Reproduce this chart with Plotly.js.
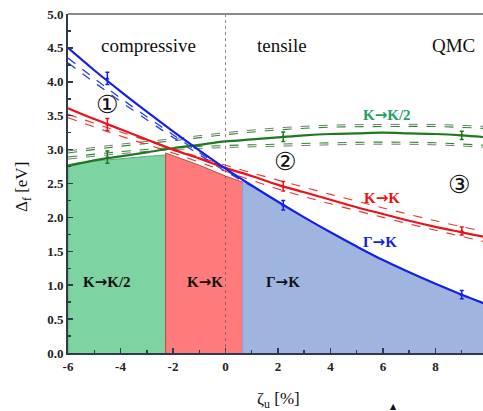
<!DOCTYPE html>
<html>
<head>
<meta charset="utf-8">
<script src="https://cdn.plot.ly/plotly-3.0.1.min.js"></script>
<style>html,body{margin:0;padding:0;background:#fff;}#chart{width:483px;height:411px;}</style>
</head>
<body>
<div id="chart"></div>
<script>
// ---- data ----
const strainX = [-6,-5,-4,-3,-2,-1,0,1,2,3,4,5,6,7,8,9,10];
const gammaK  = [4.50,4.17,3.86,3.56,3.27,2.99,2.72,2.47,2.23,2.00,1.78,1.57,1.37,1.19,1.02,0.86,0.71];
const kK      = [3.61,3.45,3.30,3.15,3.00,2.87,2.73,2.61,2.48,2.37,2.26,2.15,2.05,1.95,1.86,1.78,1.70];
const kK2     = [2.76,2.84,2.90,2.96,3.02,3.07,3.12,3.15,3.18,3.21,3.23,3.24,3.25,3.24,3.23,3.21,3.18];

const bandX      = [-6,-4,-2,0,2,4,6,8,10];
const kK2Upper   = [2.95,3.05,3.13,3.22,3.29,3.33,3.34,3.34,3.31];
const kK2Lower   = [2.89,2.97,3.03,3.06,3.08,3.10,3.11,3.10,3.06];
const kKUpper    = [3.52,3.26,3.01,2.77,2.55,2.34,2.14,1.95,1.78];
const kKLower    = [3.47,3.20,2.95,2.68,2.42,2.20,2.00,1.81,1.63];
const blueBandX  = [-6,-4,-2,0,1];
const gammaKUpper= [4.35,3.76,3.22,2.70,2.47];
const gammaKLower= [4.28,3.71,3.18,2.68,2.46];

const qmcX      = [-4.5, 2.2, 9];
const qmcGammaK = [4.05, 2.18, 0.86];
const qmcKK     = [3.37, 2.46, 1.80];
const qmcKK2    = [2.89, 3.19, 3.21];
const qmcErr    = [0.09, 0.07, 0.06];

const regGreenX = [-6,-6,-5,-4,-3,-2.28,-2.28];
const regGreenY = [0,2.78,2.83,2.87,2.90,2.92,0];
const regRedX   = [-2.28,-2.28,-1,0,0.65,0.65];
const regRedY   = [0,2.95,2.77,2.61,2.52,0];
const regBlueX  = [0.65,0.65,1,2,3,4,5,6,7,8,9,10,10];
const regBlueY  = [0,2.56,2.47,2.23,2.00,1.78,1.57,1.37,1.19,1.02,0.86,0.71,0];

const xTicks = [-6,-4,-2,0,2,4,6,8];
const yTicks = [0,0.5,1,1.5,2,2.5,3,3.5,4,4.5,5];

// ---- traces ----
const cBlue='#1222e6', cRed='#e81418', cGreen='#1f7a1f';
const traces = [];
function region(x,y,fill,edge){
  traces.push({x:x,y:y,mode:'lines',fill:'toself',fillcolor:fill,line:{color:edge,width:1},hoverinfo:'skip',showlegend:false});
}
region(regGreenX,regGreenY,'#7dd3a2','#5aaa7e');
region(regRedX,regRedY,'#ff7b7b','#c04848');
region(regBlueX,regBlueY,'#9fb5e0','#8aa0d0');

function dashed(x,y,color,w){
  traces.push({x:x,y:y,mode:'lines',line:{color:color,width:w||1,dash:'dash',shape:'spline'},hoverinfo:'skip',showlegend:false});
}
dashed(bandX,kK2Upper,'#2f8a2f',1.1);
dashed(bandX,kK2Lower,'#2f8a2f',1.1);
dashed(bandX,kK2Upper.map(v=>v+0.03),'#555',0.8);
dashed(bandX,kK2Lower.map(v=>v-0.03),'#555',0.8);
dashed(bandX,kKUpper,'#f03030',1.1);
dashed(bandX,kKLower,'#f03030',1.1);
dashed(blueBandX,gammaKUpper,'#2a40e0',1.3);
dashed(blueBandX,gammaKLower,'#2a40e0',1.3);

function solid(y,color){
  traces.push({x:strainX,y:y,mode:'lines',line:{color:color,width:2.2,shape:'spline'},hoverinfo:'skip',showlegend:false});
}
solid(kK2,cGreen);
solid(kK,cRed);
solid(gammaK,cBlue);

function pts(y,color){
  traces.push({x:qmcX,y:y,mode:'markers',marker:{color:color,size:4,symbol:'triangle-up'},
    error_y:{type:'data',array:qmcErr,visible:true,color:color,thickness:1.5,width:2},hoverinfo:'skip',showlegend:false});
}
pts(qmcKK2,cGreen);
pts(qmcKK,cRed);
pts(qmcGammaK,cBlue);

// ---- layout ----
const serif='Liberation Serif, Times New Roman, serif';
const AR='<span style="font-family:DejaVu Sans">→</span>';
const ann = [];
function txt(x,y,t,size,color,bold){
  ann.push({x:x,y:y,xref:'x',yref:'y',text:t,showarrow:false,
    font:{family:serif,size:size,color:color,weight:bold?'bold':'normal'},xanchor:'center',yanchor:'middle'});
}
txt(-2.95,4.54,'compressive',19,'#111',false);
txt(2.15,4.54,'tensile',19,'#111',false);
txt(8.7,4.54,'QMC',19,'#111',false);
function circ(x,y,t){
  ann.push({x:x,y:y,xref:'x',yref:'y',text:t,showarrow:false,xanchor:'center',yanchor:'middle',
    font:{family:'DejaVu Sans',size:25,color:'#111'}});
}
circ(-4.5,3.67,'①');
circ(2.27,2.82,'②');
circ(8.9,2.48,'③');
txt(6.15,3.51,'K'+AR+'K/2',15,'#22a060',true);
txt(5.95,2.29,'K'+AR+'K',15,cRed,true);
txt(5.9,1.63,'Γ'+AR+'K',15,cBlue,true);
txt(-4.5,1.04,'K'+AR+'K/2',15,'#111',true);
txt(-0.8,1.04,'K'+AR+'K',15,'#111',true);
txt(2.2,1.04,'Γ'+AR+'K',15,'#111',true);
// axis titles and edge mark placed by pixel position
function pix(px,py,t,size,angle,fam){
  ann.push({x:(px-68)/415,y:(353-py)/339,xref:'paper',yref:'paper',text:t,showarrow:false,
    textangle:angle||0,xanchor:'center',yanchor:'middle',font:{family:fam||serif,size:size,color:'#111'}});
}
pix(23,187,'Δ<sub>f</sub> [eV]',17,-90);
pix(278,400,'ζ<sub>u</sub> [%]',17,0);
pix(393,406,'▲',8,0,'DejaVu Sans');

const layout = {
  width:483,height:411,
  margin:{l:68,r:0,t:14,b:58,pad:0},
  paper_bgcolor:'#fff',plot_bgcolor:'#fff',
  showlegend:false,
  xaxis:{range:[-6,9.81],tickvals:xTicks,ticktext:xTicks.map(String),ticks:'inside',ticklen:5,tickwidth:1.5,
    tickcolor:'#2d3b4a',showline:true,linecolor:'#2d3b4a',linewidth:2,zeroline:false,showgrid:false,
    minor:{dtick:1,ticks:'inside',ticklen:3,tickcolor:'#2d3b4a'},
    tickfont:{family:serif,size:13,color:'#222',weight:'bold'},fixedrange:true},
  yaxis:{range:[0,5],tickvals:yTicks,ticktext:yTicks.map(v=>v.toFixed(1)),ticks:'inside',ticklen:5,tickwidth:1.5,
    tickcolor:'#2d3b4a',showline:true,linecolor:'#2d3b4a',linewidth:2,zeroline:false,showgrid:false,
    minor:{dtick:0.25,ticks:'inside',ticklen:3,tickcolor:'#2d3b4a'},
    tickfont:{family:serif,size:13,color:'#222',weight:'bold'},fixedrange:true},
  shapes:[
    {type:'line',xref:'x',yref:'paper',x0:0,x1:0,y0:0,y1:1,line:{color:'rgba(90,90,90,0.7)',width:1,dash:'dot'},layer:'above'},
    {type:'line',xref:'paper',yref:'paper',x0:0,x1:1,y0:1,y1:1,line:{color:'#8a8a8a',width:2}}
  ],
  annotations:ann
};
Plotly.newPlot('chart',traces,layout,{displayModeBar:false,staticPlot:true});
</script>
</body>
</html>
